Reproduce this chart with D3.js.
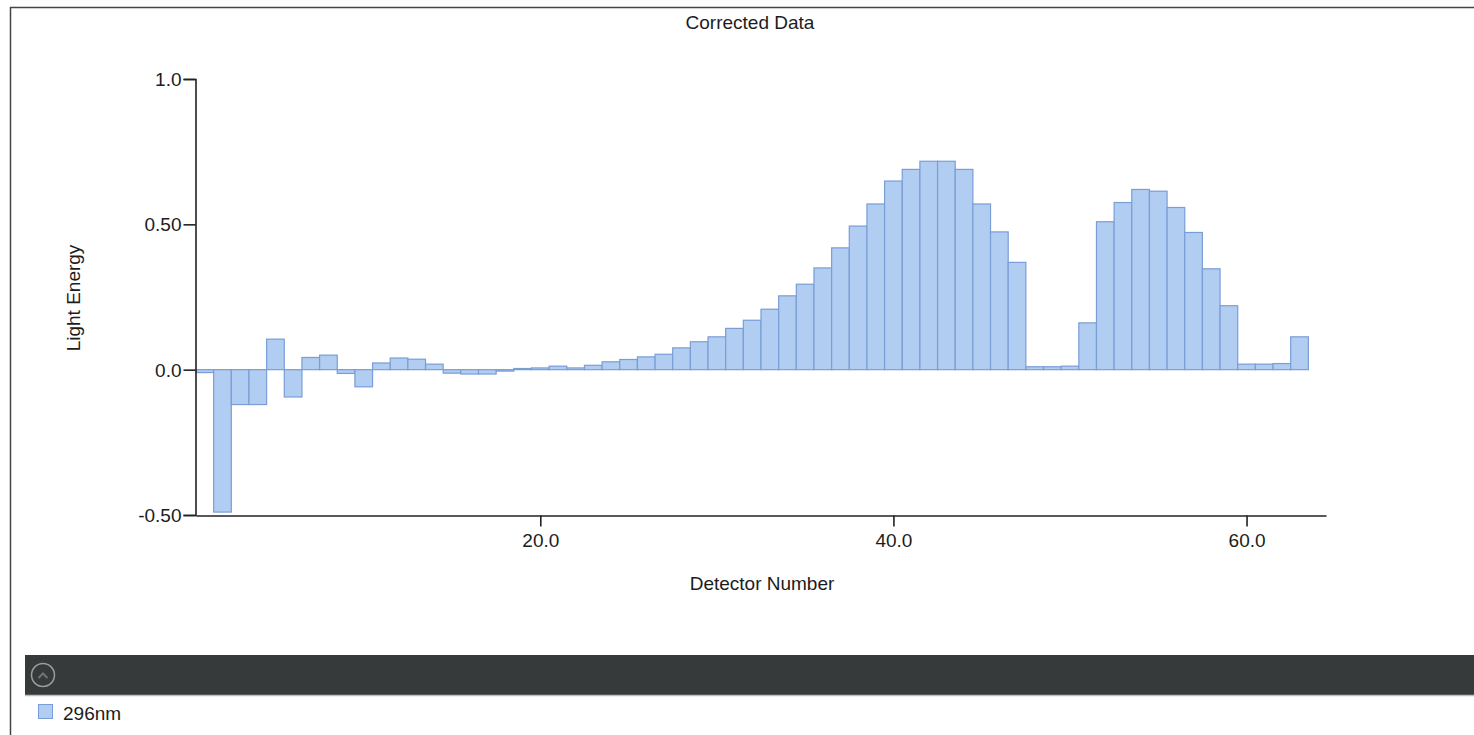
<!DOCTYPE html>
<html>
<head>
<meta charset="utf-8">
<script src="https://cdn.jsdelivr.net/npm/d3@7"></script>
<style>
  html, body { margin: 0; padding: 0; background: #ffffff; }
  svg { display: block; }
  text { font-family: "Liberation Sans", Arial, sans-serif; fill: #1c1c1c; }
</style>
</head>
<body>
<svg id="chart" width="1474" height="735"></svg>
<script>
// Detector channels and the corrected light energy per channel
const detectors = d3.range(1, 64);
const energy296 = [
  -0.010, -0.490, -0.120, -0.120, 0.105, -0.094, 0.042, 0.050, -0.013, -0.059,
   0.023,  0.040,  0.036,  0.019, -0.012, -0.015, -0.015, -0.005, 0.004, 0.006,
   0.012,  0.006,  0.015,  0.027, 0.035, 0.044, 0.053, 0.075, 0.096, 0.113,
   0.142,  0.170,  0.208,  0.254, 0.294, 0.350, 0.419, 0.494, 0.570, 0.649,
   0.689,  0.717,  0.717,  0.689, 0.570, 0.474, 0.369, 0.010, 0.010, 0.012,
   0.161,  0.509,  0.575,  0.620, 0.614, 0.558, 0.472, 0.347, 0.220, 0.019,
   0.019,  0.021,  0.113
];
const seriesName = "296nm";
const yTicks = [-0.5, 0.0, 0.5, 1.0];
const yTickLabels = ["-0.50", "0.0", "0.50", "1.0"];
const xTicks = [20, 40, 60];
const xTickLabels = ["20.0", "40.0", "60.0"];

const svg = d3.select("#chart");
const barFill = "#b1cdf1";
const barStroke = "#7a9dd6";
const fontSize = "19px";

// Panel frame (top and left edges)
svg.append("line").attr("x1", 10).attr("x2", 1474).attr("y1", 7.5).attr("y2", 7.5)
  .attr("stroke", "#444").attr("stroke-width", 1.5);
svg.append("line").attr("x1", 10.5).attr("x2", 10.5).attr("y1", 7).attr("y2", 735)
  .attr("stroke", "#444").attr("stroke-width", 1.5);

svg.append("text").attr("x", 750).attr("y", 29).attr("text-anchor", "middle")
  .style("font-size", fontSize).text("Corrected Data");

const x = d3.scaleLinear().domain([0.5, 64.5]).range([196, 1326]);
const y = d3.scaleLinear().domain([-0.5, 1.0]).range([515, 79]);

// Bars, one per detector
svg.append("g").selectAll("rect")
  .data(detectors.map((d, i) => ({ det: d, v: energy296[i] })))
  .join("rect")
  .attr("x", d => x(d.det - 0.5))
  .attr("width", d => x(d.det + 0.5) - x(d.det - 0.5))
  .attr("y", d => y(Math.max(0, d.v)))
  .attr("height", d => Math.max(1, Math.abs(y(d.v) - y(0))))
  .attr("fill", barFill)
  .attr("stroke", barStroke)
  .attr("stroke-width", 1.2);

// Axes
const yAxis = d3.axisLeft(y).tickValues(yTicks)
  .tickFormat((d, i) => yTickLabels[i]).tickSize(12).tickPadding(2);
const gy = svg.append("g").attr("transform", "translate(195.5,0)").call(yAxis);
gy.select(".domain").attr("stroke", "#222").attr("stroke-width", 1.6);
gy.selectAll(".tick line").attr("stroke", "#222").attr("stroke-width", 1.6);
gy.selectAll(".tick text").style("font-size", fontSize).attr("fill", "#1c1c1c").attr("dy", "0.35em");

const xAxis = d3.axisBottom(x).tickValues(xTicks)
  .tickFormat((d, i) => xTickLabels[i]).tickSize(11).tickPadding(7).tickSizeOuter(0);
const gx = svg.append("g").attr("transform", "translate(0,515.5)").call(xAxis);
gx.select(".domain").attr("stroke", "#222").attr("stroke-width", 1.6);
gx.selectAll(".tick line").attr("stroke", "#222").attr("stroke-width", 1.6);
gx.selectAll(".tick text").style("font-size", fontSize).attr("fill", "#1c1c1c");

svg.append("text").attr("x", 762).attr("y", 590).attr("text-anchor", "middle")
  .style("font-size", fontSize).text("Detector Number");
svg.append("text").attr("transform", "translate(80,298) rotate(-90)")
  .attr("text-anchor", "middle").style("font-size", fontSize).text("Light Energy");

// Legend toolbar
svg.append("rect").attr("x", 25).attr("y", 655).attr("width", 1449).attr("height", 40)
  .attr("fill", "#363a3b");
svg.append("line").attr("x1", 25).attr("x2", 1474).attr("y1", 695.5).attr("y2", 695.5)
  .attr("stroke", "#b8c0c4").attr("stroke-width", 1.5);
svg.append("circle").attr("cx", 43).attr("cy", 675).attr("r", 11.5)
  .attr("fill", "none").attr("stroke", "#9a9d9e").attr("stroke-width", 1.5);
svg.append("path").attr("d", "M38.5,678 L43,673.5 L47.5,678")
  .attr("fill", "none").attr("stroke", "#6f7374").attr("stroke-width", 2);

// Legend entry
svg.append("rect").attr("x", 38.5).attr("y", 704.5).attr("width", 14).attr("height", 14)
  .attr("fill", barFill).attr("stroke", barStroke);
svg.append("text").attr("x", 63).attr("y", 720).style("font-size", fontSize).text(seriesName);
</script>
</body>
</html>
